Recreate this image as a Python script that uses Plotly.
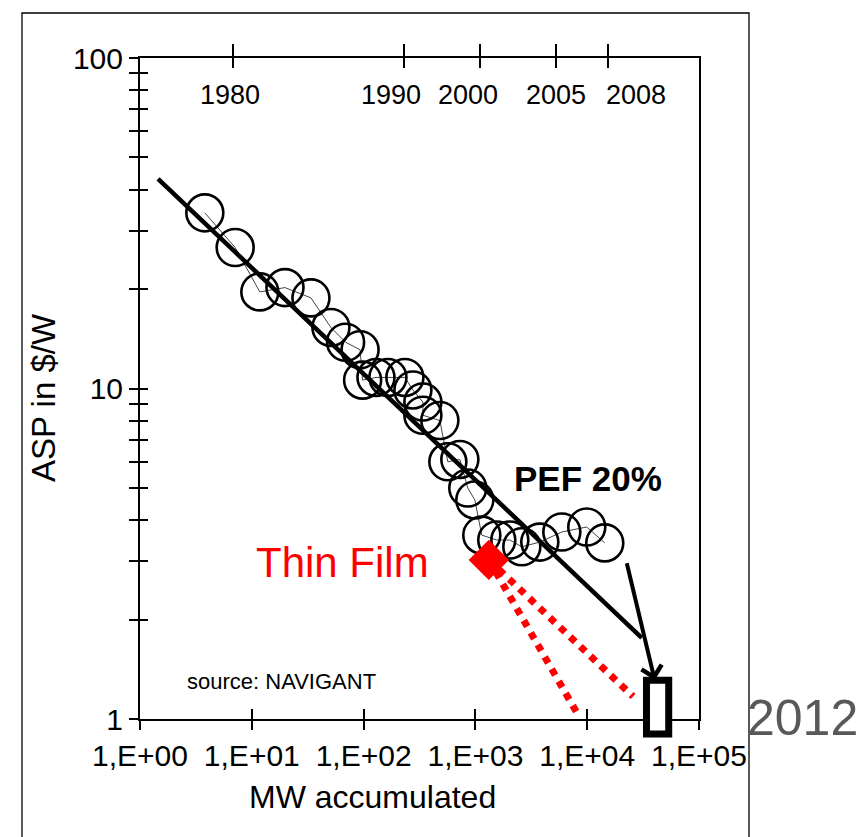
import math
import plotly.graph_objects as go

# ---------------- data ----------------
mw_accumulated = [3.8, 7.1, 11.8, 19.8, 33.8, 51, 69, 93, 98, 129, 165, 234, 276, 339,
                  339, 481, 567, 726, 855, 988, 1141, 1553, 2032, 2602, 3767, 5930, 9910, 14360]
asp_usd_per_w = [34.0, 26.7, 19.6, 20.2, 18.8, 15.3, 13.8, 13.1, 10.6, 10.8, 10.8, 10.8, 9.9, 9.1,
                 8.3, 8.0, 6.0, 6.1, 5.0, 4.6, 3.6, 3.48, 3.48, 3.32, 3.43, 3.68, 3.81, 3.41]

fit_mw = [1.45, 30750]
fit_asp = [43.1, 1.76]

thin_film_mw = [1318]
thin_film_asp = [3.03]
tf_low_mw = [1318, 8280]
tf_low_asp = [3.03, 1.03]
tf_high_mw = [1318, 25700]
tf_high_asp = [3.03, 1.17]

target_2012_mw = [33900, 53600]
target_2012_asp = [0.90, 1.31]

arrow_mw = [22440, 40200]
arrow_asp = [2.99, 1.31]

year_mw = [6.8, 229, 1094, 5230, 15500]
year_labels = ["1980", "1990", "2000", "2005", "2008"]

x_tick_vals = [1, 10, 100, 1000, 10000, 100000]
x_tick_text = ["1,E+00", "1,E+01", "1,E+02", "1,E+03", "1,E+04", "1,E+05"]
y_tick_vals = [m * 10 ** e for e in range(2) for m in range(1, 10)] + [100]
y_tick_text = [str(v) if v in (1, 10, 100) else "" for v in y_tick_vals]

# ---------------- style / layout ----------------
FONT = "Liberation Sans, Arial, sans-serif"
W, H = 864, 837
L, R, T, B = 140, 165, 58, 118
XR = [0, 5]
YR = [0, 2]
PW, PH = W - L - R, H - T - B


def px_x(px):
    return (px - L) / PW


def px_y(py):
    return (H - B - py) / PH


def val_to_paper_y(v):
    return (math.log10(v) - YR[0]) / (YR[1] - YR[0])


fig = go.Figure()

fig.add_trace(go.Scatter(
    x=mw_accumulated, y=asp_usd_per_w, mode="lines+markers",
    line=dict(color="#444444", width=1),
    marker=dict(symbol="circle-open", size=37, color="black", line=dict(width=2.6)),
    showlegend=False, hoverinfo="skip"))

fig.add_trace(go.Scatter(
    x=fit_mw, y=fit_asp, mode="lines",
    line=dict(color="black", width=4.5), showlegend=False, hoverinfo="skip"))

for xs, ys in ((tf_low_mw, tf_low_asp), (tf_high_mw, tf_high_asp)):
    fig.add_trace(go.Scatter(
        x=xs, y=ys, mode="lines",
        line=dict(color="#FF0000", width=7, dash="dot"),
        showlegend=False, hoverinfo="skip"))

fig.add_trace(go.Scatter(
    x=thin_film_mw, y=thin_film_asp, mode="markers",
    marker=dict(symbol="diamond", size=31, color="#FF0000"),
    showlegend=False, hoverinfo="skip"))

# invisible helper traces so the overlay axes are drawn
for xa, ya in (("x2", "y"), ("x3", "y"), ("x4", "y"), ("x", "y2"), ("x", "y3")):
    fig.add_trace(go.Scatter(
        x=[mw_accumulated[0]], y=[asp_usd_per_w[0]], xaxis=xa, yaxis=ya,
        mode="markers", marker=dict(opacity=0), showlegend=False, hoverinfo="skip"))

base = dict(type="log", showgrid=False, zeroline=False)
fig.update_layout(
    width=W, height=H, autosize=False,
    margin=dict(l=L, r=R, t=T, b=B, pad=0),
    paper_bgcolor="white", plot_bgcolor="white",
    font=dict(family=FONT, color="black"),
    xaxis=dict(**base, range=XR, tickvals=x_tick_vals, ticktext=x_tick_text,
               ticks="outside", ticklen=9, tickwidth=1.5, tickcolor="black",
               showline=True, linecolor="black", linewidth=2,
               tickfont=dict(size=30, family=FONT, color="black")),
    xaxis2=dict(**base, range=XR, overlaying="x", side="bottom", anchor="y",
                tickvals=x_tick_vals, ticks="inside", ticklen=10, tickwidth=1.5,
                tickcolor="black", showticklabels=False, showline=False),
    xaxis3=dict(**base, range=XR, overlaying="x", side="top", anchor="y",
                tickvals=year_mw, ticks="outside", ticklen=12, tickwidth=2,
                tickcolor="black", showticklabels=False,
                showline=True, linecolor="black", linewidth=2),
    xaxis4=dict(**base, range=XR, overlaying="x", side="top", anchor="y",
                tickvals=year_mw, ticks="inside", ticklen=10, tickwidth=2,
                tickcolor="black", showticklabels=False, showline=False),
    yaxis=dict(**base, range=YR, tickvals=y_tick_vals, ticktext=y_tick_text,
               ticks="outside", ticklen=9, tickwidth=1.5, tickcolor="black",
               showline=True, linecolor="black", linewidth=2,
               tickfont=dict(size=30, family=FONT, color="black")),
    yaxis2=dict(**base, range=YR, overlaying="y", side="left", anchor="x",
                tickvals=y_tick_vals, ticks="inside", ticklen=8, tickwidth=1.5,
                tickcolor="black", showticklabels=False, showline=False),
    yaxis3=dict(**base, range=YR, overlaying="y", side="right", anchor="x",
                ticks="", showticklabels=False,
                showline=True, linecolor="black", linewidth=1.5),
)

# 2012 target box
fig.add_shape(type="rect", xref="x", yref="paper",
              x0=target_2012_mw[0], x1=target_2012_mw[1],
              y0=val_to_paper_y(target_2012_asp[0]), y1=val_to_paper_y(target_2012_asp[1]),
              line=dict(color="black", width=7), fillcolor="white", layer="above")

# outer frame
fig.add_shape(type="rect", xref="paper", yref="paper",
              x0=px_x(22), x1=px_x(749), y0=px_y(860), y1=px_y(13),
              line=dict(color="black", width=1.3), fillcolor="rgba(0,0,0,0)", layer="below")

# arrow to 2012 box
fig.add_annotation(xref="x", yref="y", axref="x", ayref="y",
                   x=math.log10(arrow_mw[1]), y=math.log10(arrow_asp[1]),
                   ax=math.log10(arrow_mw[0]), ay=math.log10(arrow_asp[0]),
                   text="", showarrow=True, arrowhead=4, arrowsize=1.0,
                   arrowwidth=4, arrowcolor="black", standoff=0)

# year labels on the top axis
year_shift = [-3, -13, -12, 0, 28]
for xv, lab, sh in zip(year_mw, year_labels, year_shift):
    fig.add_annotation(xref="x", yref="paper", x=math.log10(xv), y=px_y(95),
                       text=lab, showarrow=False, xshift=sh,
                       xanchor="center", yanchor="middle",
                       font=dict(size=27, family=FONT, color="black"))

texts = [
    ("PEF 20%", 588, 478, 35, "black", True, "center"),
    ("Thin Film", 342, 562, 42, "#FF0000", False, "center"),
    ("source: NAVIGANT", 281, 681, 22, "black", False, "center"),
    ("2012", 745, 718, 50, "#595959", False, "left"),
    ("MW accumulated", 372, 797, 32, "black", False, "center"),
]
for txt, px, py, size, col, bold, xa in texts:
    fig.add_annotation(xref="paper", yref="paper", x=px_x(px), y=px_y(py),
                       text=f"<b>{txt}</b>" if bold else txt, showarrow=False,
                       xanchor=xa, yanchor="middle",
                       font=dict(size=size, family=FONT, color=col))

fig.add_annotation(xref="paper", yref="paper", x=px_x(44), y=px_y(398),
                   text="ASP in $/W", textangle=-90, showarrow=False,
                   xanchor="center", yanchor="middle",
                   font=dict(size=33, family=FONT, color="black"))

fig.write_html("out.html")
